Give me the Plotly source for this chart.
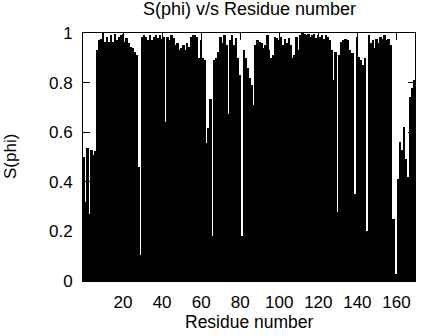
import plotly.graph_objects as go

# Order parameter S(phi) per residue
residues = list(range(0, 170))
s_phi = [
    0.50, 0.32, 0.535, 0.27, 0.53, 0.51, 0.525, 0.93, 0.97, 0.975,
    1.00, 0.965, 0.985, 0.965, 0.99, 0.965, 0.995, 0.97, 0.985, 0.99,
    0.995, 0.965, 0.98, 0.96, 0.945, 0.94, 0.925, 0.91, 0.46, 0.105,
    0.985, 0.99, 0.985, 0.97, 0.99, 0.97, 0.985, 0.99, 0.98, 0.99,
    0.975, 0.985, 0.64, 0.985, 0.97, 0.99, 0.98, 0.95, 0.96, 0.93,
    0.94, 0.95, 0.93, 0.96, 0.945, 0.985, 0.99, 0.99, 0.985, 0.90,
    0.97, 0.90, 0.89, 0.555, 0.615, 0.735, 0.18, 0.89, 0.90, 0.925,
    0.985, 0.96, 0.99, 0.95, 0.675, 0.97, 0.99, 0.95, 0.98, 0.90,
    0.83, 0.18, 0.93, 0.90, 0.86, 0.82, 0.79, 0.71, 0.95, 0.97,
    0.965, 0.96, 0.94, 0.95, 0.99, 0.93, 0.90, 0.91, 0.985, 0.98,
    0.97, 0.985, 0.95, 0.975, 0.96, 0.98, 0.95, 0.90, 0.91, 0.985,
    0.93, 0.99, 1.00, 0.995, 0.99, 0.995, 0.985, 0.99, 0.995, 0.98,
    0.99, 0.985, 0.99, 0.975, 0.99, 0.985, 0.97, 0.93, 0.81, 0.925,
    0.28, 0.91, 0.965, 0.97, 0.975, 0.97, 0.93, 0.92, 0.92, 0.35,
    0.985, 0.905, 0.89, 0.87, 0.90, 0.20, 0.99, 0.96, 0.97, 0.94,
    0.975, 0.96, 0.985, 0.975, 0.99, 0.97, 0.975, 0.95, 0.25, 0.25,
    0.03, 0.41, 0.56, 0.53, 0.62, 0.49, 0.42, 0.74, 0.78, 0.81,
]

x_ticks = [20, 40, 60, 80, 100, 120, 140, 160]
y_ticks = [0, 0.2, 0.4, 0.6, 0.8, 1]
y_tick_text = ["0", "0.2", "0.4", "0.6", "0.8", "1"]

FONT = "Liberation Sans, Arial, Helvetica, sans-serif"

fig = go.Figure(
    go.Bar(
        x=residues,
        y=s_phi,
        width=1.0,
        marker=dict(color="black", line=dict(width=0)),
    )
)

axis_common = dict(
    showline=True,
    linecolor="black",
    linewidth=1,
    mirror="allticks",
    ticks="inside",
    ticklen=7,
    tickwidth=1,
    tickcolor="black",
    showgrid=False,
    zeroline=False,
    tickfont=dict(family=FONT, size=17, color="black"),
)

fig.update_layout(
    width=424,
    height=336,
    margin=dict(l=83, r=9, t=33, b=55),
    paper_bgcolor="white",
    plot_bgcolor="white",
    showlegend=False,
    bargap=0,
    font=dict(family=FONT, size=17, color="black"),
    xaxis=dict(range=[-0.5, 169.5], tickvals=x_ticks, ticklabelstandoff=6, **axis_common),
    yaxis=dict(range=[0, 1], tickvals=y_ticks, ticktext=y_tick_text, ticklabelstandoff=6, **axis_common),
    annotations=[
        dict(text="S(phi) v/s Residue number", xref="paper", yref="paper",
             x=0.5, y=1, yanchor="middle", yshift=24, showarrow=False,
             borderpad=0,
             font=dict(family=FONT, size=18, color="black")),
        dict(text="Residue number", xref="paper", yref="paper",
             x=0.5, y=0, yanchor="middle", yshift=-41, showarrow=False,
             font=dict(family=FONT, size=17.5, color="black")),
        dict(text="S(phi)", xref="paper", yref="paper",
             x=0, y=0.5, xanchor="center", xshift=-73, textangle=-90, showarrow=False,
             font=dict(family=FONT, size=17, color="black")),
    ],
)

fig.write_html("out.html")
